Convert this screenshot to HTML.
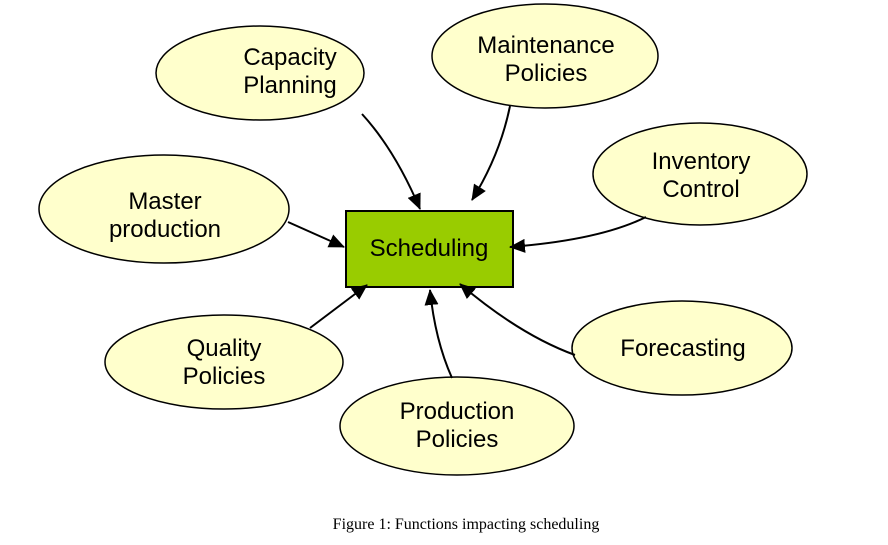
<!DOCTYPE html>
<html><head><meta charset="utf-8"><style>
html,body{margin:0;padding:0;background:#fff;}
svg{display:block}
text{font-family:"Liberation Sans",sans-serif;font-size:24px;fill:#000;text-anchor:middle}
</style></head><body>
<svg width="888" height="545" viewBox="0 0 888 545">
<defs>
<marker id="b" markerWidth="16" markerHeight="14" refX="15" refY="7" orient="auto" markerUnits="userSpaceOnUse"><path d="M0,0 L16,7 L0,14 Z" fill="#000"/></marker></defs>
<g fill="#ffffcc" stroke="#000" stroke-width="1.5">
<ellipse cx="260" cy="73" rx="104" ry="47"/>
<ellipse cx="545" cy="56" rx="113" ry="52"/>
<ellipse cx="700" cy="174" rx="107" ry="51"/>
<ellipse cx="164" cy="209" rx="125" ry="54"/>
<ellipse cx="224" cy="362" rx="119" ry="47"/>
<ellipse cx="457" cy="426" rx="117" ry="49"/>
<ellipse cx="682" cy="348" rx="110" ry="47"/>
</g>
<rect x="346" y="211" width="167" height="76" fill="#99cc00" stroke="#000" stroke-width="2"/>
<g fill="none" stroke="#000" stroke-width="2" marker-end="url(#b)">
<path d="M362,114 Q395,150 420,209"/>
<path d="M510,106 Q500,155 472,200"/>
<path d="M646,217 Q600,240 510,247"/>
<path d="M288,222 L344,247"/>
<path d="M310,328 L367,285"/>
<path d="M452,378 Q435,340 430,290"/>
<path d="M575,355 Q520,335 460,284"/>
</g>
<text x="290" y="65">Capacity</text><text x="290" y="93">Planning</text>
<text x="546" y="53">Maintenance</text><text x="546" y="81">Policies</text>
<text x="701" y="169">Inventory</text><text x="701" y="197">Control</text>
<text x="165" y="209">Master</text><text x="165" y="237">production</text>
<text x="224" y="356">Quality</text><text x="224" y="384">Policies</text>
<text x="457" y="419">Production</text><text x="457" y="447">Policies</text>
<text x="683" y="356">Forecasting</text>
<text x="429" y="256">Scheduling</text>
<text x="466" y="529" style="font-family:'Liberation Serif',serif;font-size:16px">Figure 1: Functions impacting scheduling</text>
</svg>
</body></html>
